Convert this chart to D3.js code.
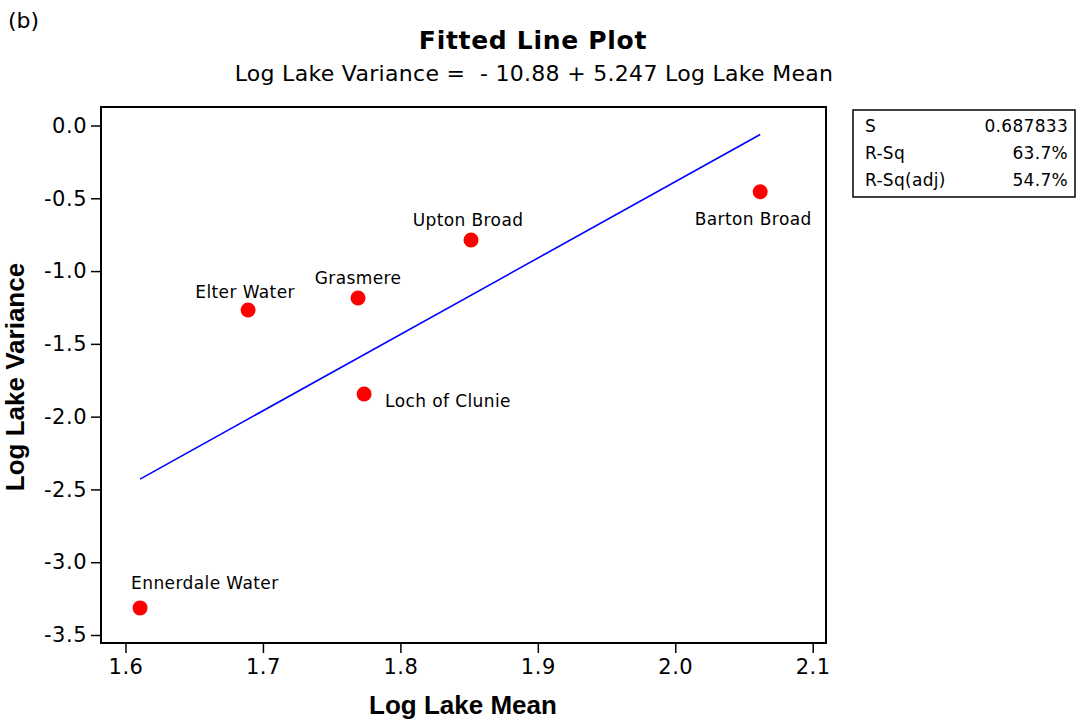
<!DOCTYPE html>
<html>
<head>
<meta charset="utf-8">
<script src="https://cdn.jsdelivr.net/npm/d3@7"></script>
<style>
  body { margin: 0; background: #fff; }
  text { font-family: "DejaVu Sans", Verdana, sans-serif; fill: #000; }
</style>
</head>
<body>
<div id="chart"></div>
<script>
// lakes
var lakes = ["Ennerdale Water", "Elter Water", "Grasmere", "Loch of Clunie", "Upton Broad", "Barton Broad"];
var logMean = [1.6106, 1.6892, 1.7692, 1.7736, 1.8514, 2.0618];
var logVar = [-3.314, -1.267, -1.185, -1.844, -0.787, -0.455];

// fitted line ends
var fitX = [1.6106, 2.0618];
var fitY = [-2.429, -0.062];

var xTicks = [1.6, 1.7, 1.8, 1.9, 2.0, 2.1];
var xTickLabels = ["1.6", "1.7", "1.8", "1.9", "2.0", "2.1"];
var yTicks = [0, -0.5, -1, -1.5, -2, -2.5, -3, -3.5];
var yTickLabels = ["0.0", "-0.5", "-1.0", "-1.5", "-2.0", "-2.5", "-3.0", "-3.5"];

var statNames = ["S", "R-Sq", "R-Sq(adj)"];
var statValues = ["0.687833", "63.7%", "54.7%"];

// label offsets from the dot (layout only)
var labelPos = [
  {dx: -9, dy: -19, anchor: "start"},
  {dx: -3, dy: -12, anchor: "middle"},
  {dx: 0, dy: -14, anchor: "middle"},
  {dx: 21, dy: 13, anchor: "start"},
  {dx: -3, dy: -14, anchor: "middle"},
  {dx: -7, dy: 33, anchor: "middle"}
];

var W = 1084, H = 720;
var frame = {left: 101, right: 826, top: 107, bottom: 643};

var svg = d3.select("#chart").append("svg")
    .attr("width", W)
    .attr("height", H);

var x = d3.scaleLinear().domain([1.6, 2.1]).range([125.5, 812.7]);
var y = d3.scaleLinear().domain([0, -3.5]).range([125.5, 635]);

svg.append("text")
    .attr("x", 8)
    .attr("y", 28)
    .style("font-size", "22px")
    .text("(b)");

svg.append("text")
    .attr("x", 533)
    .attr("y", 49)
    .attr("text-anchor", "middle")
    .style("font-size", "25px")
    .style("font-weight", "bold")
    .style("letter-spacing", "0.7px")
    .text("Fitted Line Plot");

svg.append("text")
    .attr("x", 534)
    .attr("y", 81)
    .attr("text-anchor", "middle")
    .style("font-size", "22px")
    .style("letter-spacing", "0.3px")
    .attr("xml:space", "preserve")
    .text("Log Lake Variance =  - 10.88 + 5.247 Log Lake Mean");

// axes
svg.append("g")
    .attr("transform", "translate(0," + frame.bottom + ")")
    .call(d3.axisBottom(x).tickValues(xTicks).tickSize(10).tickSizeOuter(0).tickPadding(6)
      .tickFormat(function(d, i) { return xTickLabels[i]; }));

svg.append("g")
    .attr("transform", "translate(" + frame.left + ",0)")
    .call(d3.axisLeft(y).tickValues(yTicks).tickSize(10).tickSizeOuter(0).tickPadding(4)
      .tickFormat(function(d, i) { return yTickLabels[i]; }));

svg.selectAll(".domain").remove();
svg.selectAll(".tick line").attr("stroke", "#000").attr("stroke-width", 1.5);
svg.selectAll(".tick text")
    .style("font-size", "21px")
    .style("font-family", "'DejaVu Sans', Verdana, sans-serif")
    .style("letter-spacing", "0.5px")
    .attr("fill", "#000");

svg.append("rect")
    .attr("x", frame.left)
    .attr("y", frame.top)
    .attr("width", frame.right - frame.left)
    .attr("height", frame.bottom - frame.top)
    .attr("fill", "none")
    .attr("stroke", "#000")
    .attr("stroke-width", 2);

svg.append("text")
    .attr("x", 463)
    .attr("y", 714)
    .attr("text-anchor", "middle")
    .style("font-size", "26px")
    .style("font-weight", "bold")
    .style("font-family", "'Liberation Sans', Arial, sans-serif")
    .text("Log Lake Mean");

svg.append("text")
    .attr("transform", "translate(24,377) rotate(-90)")
    .attr("text-anchor", "middle")
    .style("font-size", "26px")
    .style("font-weight", "bold")
    .style("font-family", "'Liberation Sans', Arial, sans-serif")
    .text("Log Lake Variance");

// fitted line
var line = d3.line()
    .x(function(d) { return x(d[0]); })
    .y(function(d) { return y(d[1]); });

svg.append("path")
    .datum(d3.zip(fitX, fitY))
    .attr("d", line)
    .attr("fill", "none")
    .attr("stroke", "#0000ff")
    .attr("stroke-width", 1.6);

// points
var pts = d3.range(lakes.length);

svg.selectAll(".dot")
  .data(pts)
  .enter().append("circle")
    .attr("class", "dot")
    .attr("cx", function(i) { return x(logMean[i]); })
    .attr("cy", function(i) { return y(logVar[i]); })
    .attr("r", 7.5)
    .attr("fill", "#ff0000");

svg.selectAll(".lbl")
  .data(pts)
  .enter().append("text")
    .attr("class", "lbl")
    .attr("x", function(i) { return x(logMean[i]) + labelPos[i].dx; })
    .attr("y", function(i) { return y(logVar[i]) + labelPos[i].dy; })
    .attr("text-anchor", function(i) { return labelPos[i].anchor; })
    .style("font-size", "17px")
    .style("letter-spacing", "0.4px")
    .text(function(i) { return lakes[i]; });

// stats box
var box = svg.append("g").attr("transform", "translate(853,110)");
box.append("rect")
    .attr("width", 222)
    .attr("height", 87)
    .attr("fill", "none")
    .attr("stroke", "#000")
    .attr("stroke-width", 1.5);

box.selectAll(".sname")
  .data(statNames)
  .enter().append("text")
    .attr("x", 12)
    .attr("y", function(d, i) { return 22 + i * 27; })
    .style("font-size", "17px")
    .style("letter-spacing", "0.3px")
    .text(function(d) { return d; });

box.selectAll(".sval")
  .data(statValues)
  .enter().append("text")
    .attr("x", 215)
    .attr("y", function(d, i) { return 22 + i * 27; })
    .attr("text-anchor", "end")
    .style("font-size", "17px")
    .style("letter-spacing", "0.3px")
    .text(function(d) { return d; });
</script>
</body>
</html>
